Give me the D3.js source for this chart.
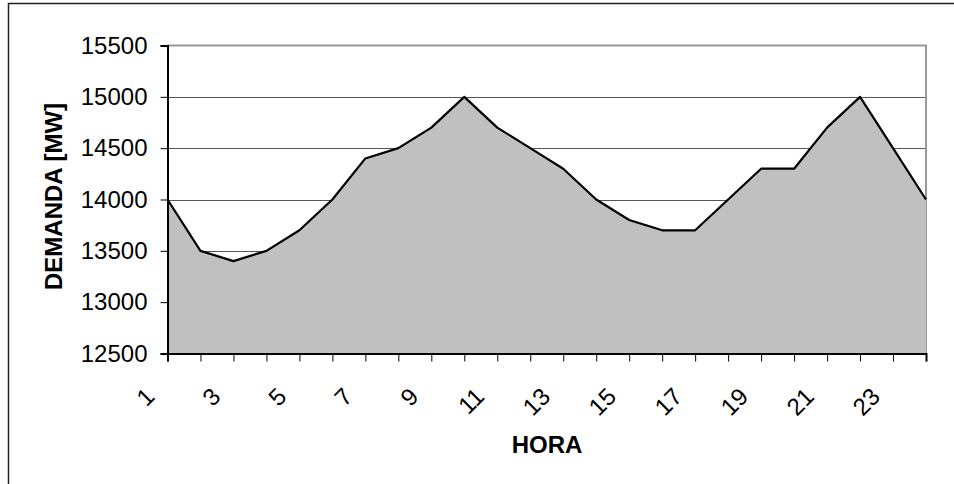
<!DOCTYPE html>
<html><head><meta charset="utf-8">
<script src="https://cdn.jsdelivr.net/npm/d3@7"></script>
<style>body{margin:0;background:#fff;} svg{display:block;} text{font-family:"Liberation Sans",Arial,sans-serif;}</style>
</head><body>
<svg id="c" width="954" height="484"></svg>
<script>
const hours = [1,2,3,4,5,6,7,8,9,10,11,12,13,14,15,16,17,18,19,20,21,22,23,24];
const demand = [14000,13500,13400,13500,13700,14000,14400,14500,14700,15000,14700,14500,14300,14000,13800,13700,13700,14000,14300,14300,14700,15000,14500,14000];
const yTicks = [12500,13000,13500,14000,14500,15000,15500];
const xTickLabels = [1,3,5,7,9,11,13,15,17,19,21,23];
const xTitle = "HORA";
const yTitle = "DEMANDA [MW]";

const svg = d3.select("#c");
const L = 167.5, R = 926, T = 45.5, B = 353.5;

// outer frame
svg.append("rect").attr("x",8.5).attr("y",3.5).attr("width",960).attr("height",500)
  .attr("fill","none").attr("stroke","#222").attr("stroke-width",1.5);

const x = d3.scaleLinear().domain([1,24]).range([L,R]);
const y = d3.scaleLinear().domain([12500,15500]).range([B,T]);

// gridlines
svg.append("g").selectAll("line").data(yTicks.filter(v=>v>12500 && v<15500)).join("line")
  .attr("x1",L).attr("x2",R).attr("y1",d=>Math.round(y(d))+0.5).attr("y2",d=>Math.round(y(d))+0.5)
  .attr("stroke","#555").attr("stroke-width",1);

// plot border top/right gray
svg.append("path").attr("d",`M${L},${T}H${R}V${B}`).attr("fill","none").attr("stroke","#999").attr("stroke-width",2);

// area
const area = d3.area().x((d,i)=>x(hours[i])).y0(B).y1(d=>y(d));
svg.append("path").datum(demand).attr("d",area).attr("fill","#c0c0c0");
const line = d3.line().x((d,i)=>x(hours[i])).y(d=>y(d));
svg.append("path").datum(demand).attr("d",line).attr("fill","none").attr("stroke","#000").attr("stroke-width",2.2).attr("stroke-linejoin","round");

// y axis
const yAxis = d3.axisLeft(y).tickValues(yTicks).tickSize(7).tickPadding(13).tickFormat(d3.format("d"));
const gy = svg.append("g").attr("transform",`translate(${L},0)`).call(yAxis);
gy.select(".domain").attr("stroke","#000").attr("stroke-width",2);
gy.selectAll(".tick line").attr("stroke","#000").attr("stroke-width",1);
gy.selectAll(".tick text").attr("font-size",24).attr("fill","#000").style("font-family","'Liberation Sans',Arial,sans-serif");

// x axis
const xAxis = d3.axisBottom(x).tickValues(hours).tickSize(8).tickFormat(d=>xTickLabels.includes(d)?d:"");
const gx = svg.append("g").attr("transform",`translate(0,${B})`).call(xAxis);
gx.select(".domain").attr("stroke","#000").attr("stroke-width",2);
gx.selectAll(".tick line").attr("stroke","#000").attr("stroke-width",1);
gx.selectAll(".tick text").remove();
svg.append("g").selectAll("text").data(xTickLabels).join("text")
  .attr("transform",d=>`translate(${x(d)-11.5},398) rotate(-45)`)
  .attr("text-anchor","end").attr("font-size",24).attr("fill","#000").text(d=>d);

// titles
svg.append("text").attr("x",547).attr("y",453).attr("text-anchor","middle")
  .attr("font-size",24).attr("font-weight","bold").text(xTitle);
svg.append("text").attr("transform","translate(62,196.5) rotate(-90)").attr("text-anchor","middle")
  .attr("font-size",24).attr("font-weight","bold").text(yTitle);
</script>
</body></html>
